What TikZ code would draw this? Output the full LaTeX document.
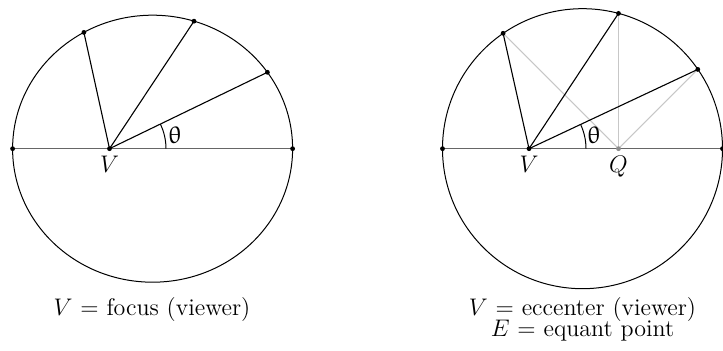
\documentclass[tikz,border=0pt]{standalone}
\usepackage{upgreek}
\usetikzlibrary{angles}

\begin{document}
\begin{tikzpicture}[x=0.5pt,y=0.5pt,font=\fontsize{12}{14}\selectfont]
\tikzstyle{orbit}=[line width=0.5pt]
\tikzstyle{apsisline}=[draw=black!60,line width=0.75pt]
\tikzstyle{ray}=[line width=0.55pt]
\tikzstyle{equantray}=[draw=black!22,line width=0.5pt]
\tikzstyle{dot}=[circle,fill=black,inner sep=0pt,minimum size=2.4pt]
\tikzstyle{greydot}=[dot,fill=black!45]
\useasboundingbox (0,0) rectangle (723,351);
% focus (Kepler)
\coordinate (fa) at (12.6,202.3);
\coordinate (fb) at (292.6,202.3);
\coordinate (fv) at (109.5,202.3);
\coordinate (fp1) at (267.4,278.7);
\coordinate (fp2) at (194.0,329.8);
\coordinate (fp3) at (83.9,318.6);
\draw[apsisline] (fa) -- (fb);
\draw[ray] (fv) -- (fp1); \draw[ray] (fv) -- (fp2); \draw[ray] (fv) -- (fp3);
\draw[orbit] (152.6,202.3) ellipse [x radius=140, y radius=133.5];
\pic[draw,line width=0.5pt,angle radius=28.25pt] {angle=fb--fv--fp1};
\foreach \p in {fa,fb,fv,fp1,fp2,fp3} \node[dot] (\p-dot) at (\p) {};
\node (fth) at (175,216) {$\uptheta$};
\node[anchor=north] (fvl) at (fv) {$V$};
\node[anchor=base] (fcap) at (152,35) {$V$ = focus (viewer)};
% eccenter and equant
\coordinate (ea) at (442.5,202.3);
\coordinate (eb) at (722.5,202.3);
\coordinate (ev) at (529,202.3);
\coordinate (eq) at (618.5,202.3);
\coordinate (er1) at (697.8,281.6);
\coordinate (er2) at (618.5,337.6);
\coordinate (er3) at (503.1,317.7);
\draw[apsisline] (ea) -- (eb);
\draw[equantray] (eq) -- (er1); \draw[equantray] (eq) -- (er2); \draw[equantray] (eq) -- (er3);
\draw[ray] (ev) -- (er1); \draw[ray] (ev) -- (er2); \draw[ray] (ev) -- (er3);
\draw[orbit] (582.5,202.3) circle [radius=140];
\pic[draw,line width=0.5pt,angle radius=28.5pt] {angle=eb--ev--er1};
\foreach \p in {ea,eb,ev,er1,er2,er3} \node[dot] (\p-dot) at (\p) {};
\node[greydot] (eq-dot) at (eq) {};
\node (eth) at (594,216) {$\uptheta$};
\node[anchor=north] (evl) at (ev) {$V$};
\node[anchor=north] (eql) at (eq) {$Q$};
\node[anchor=base] (ecap1) at (582.5,35.5) {$V$ = eccenter (viewer)};
\node[anchor=base] (ecap2) at (582.5,14) {$E$ = equant point};
\end{tikzpicture}
\end{document}
